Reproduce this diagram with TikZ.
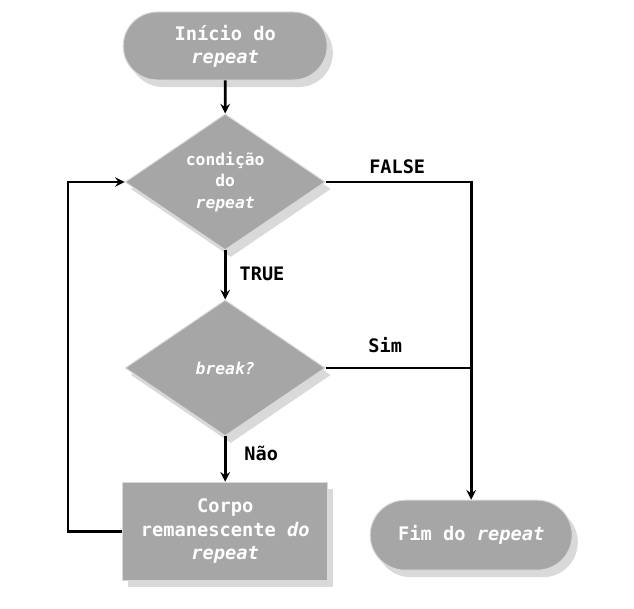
\documentclass[tikz,border=0pt]{standalone}
\usepackage{fontspec}
\setmonofont{DejaVu Sans Mono}
\usepackage{tikz}
\usetikzlibrary{arrows,shapes.geometric,shapes.misc,shadows}

\begin{document}
\begin{tikzpicture}[-stealth,line width=2pt,align=center,
    box/.style={fill=black!35, draw=white!85!black, line width=0.7pt,
      text=white, font=\ttfamily\bfseries\fontsize{13.3}{16.5}\selectfont,
      drop shadow={shadow xshift=4pt, shadow yshift=-5pt, opacity=0.3}},
    pill/.style={box, rounded rectangle, inner sep=0pt},
    cond/.style={box, diamond, inner sep=0pt, aspect=1.5,
      minimum width=5cm, minimum height=3.4cm,
      font=\ttfamily\bfseries\fontsize{11.6}{15}\selectfont},
    lbl/.style={font=\ttfamily\bfseries\fontsize{13.2}{16}\selectfont}]
      \useasboundingbox (0, 0) rectangle (15.85, -15.225);
      \node[pill, minimum width=5.1cm, minimum height=1.7cm] at (5.63, -1.15) (Start) {Início do\\\textit{repeat}};
      \node[cond] at (5.63, -4.55) (Cond) {condição\\do\\\textit{repeat}};
      \node[cond] at (5.63, -9.2) (Break) {\textit{break?}};
      \node[box, rectangle, minimum width=5.125cm, minimum height=2.45cm] at (5.63, -13.28) (Body) {Corpo\\remanescente \textit{do}\\\textit{repeat}};
      \node[pill, minimum width=5.05cm, minimum height=1.75cm] at (11.78, -13.38) (End) {Fim do \textit{repeat}};
      % labels
      \node[lbl] at (9.93, -4.18) (LFalse) {FALSE};
      \node[lbl] at (6.55, -6.85) (LTrue) {TRUE};
      \node[lbl] at (9.63, -8.63) (LSim) {Sim};
      \node[lbl] at (6.53, -11.33) (LNao) {Não};
      % connectors
      \draw (Start) -- (Cond);
      \draw (Cond) -- (Break);
      \draw (Break) -- (Body);
      \draw (Cond.east) -| (End.north);
      \draw[-] (Break.east) -- (End.north |- Break.east);
      \draw (Body.west) -- (1.7, -13.28) |- (Cond.west);
  \end{tikzpicture}
\end{document}
